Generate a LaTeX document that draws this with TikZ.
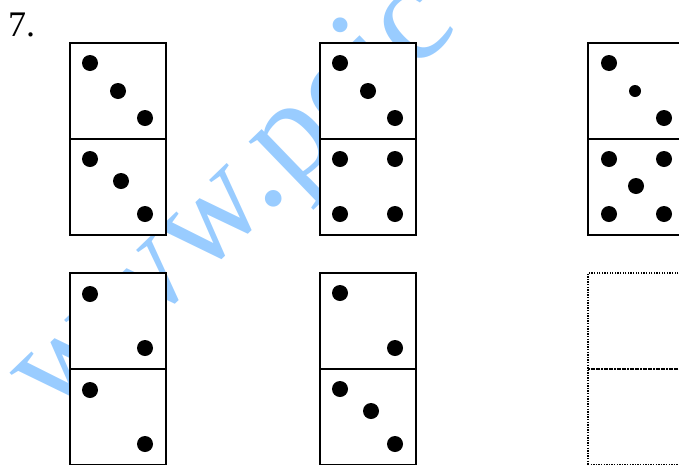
\documentclass[tikz,border=0pt]{standalone}
\usepackage{fontspec}
\setmainfont{Liberation Serif}
\usetikzlibrary{positioning}
\definecolor{markblue}{RGB}{153,204,255}
\tikzset{
  half/.style    = {draw=black, fill=white, line width=2pt, minimum width=96pt, minimum height=96pt, inner sep=0pt},
  blankhalf/.style = {draw=black, line width=1.3pt, dash pattern=on 1.3pt off 1.3pt, minimum width=96pt, minimum height=96pt, inner sep=0pt},
  pip/.style     = {circle, fill=black, inner sep=0pt, minimum size=16pt},
  smallpip/.style= {circle, fill=black, inner sep=0pt, minimum size=12pt},
  markstyle/.style = {text=markblue, font=\fontsize{140}{140}\selectfont, rotate=44, inner sep=0pt},
}
\begin{document}
\begin{tikzpicture}[x=1pt, y=-1pt]
\useasboundingbox (0,0) rectangle (679,464);
\clip (0,0) rectangle (679,464);

%% ---- watermark ----
\node[markstyle, anchor=base east] (mark1) at (291,191) {www.};
\node[markstyle, anchor=base west] (mark2) at (mark1.base east) {pcic};

%% ---- question number ----
\node[font=\fontsize{36}{36}\selectfont, anchor=base west, inner sep=0pt] (qnum) at (8,36) {7.};

%% ---- (1) domino 3|3 ----
\node[half] (d1t) at (118, 91) {};
\node[half] (d1b) at (118,187) {};
\node[pip] (p1a) at ( 90, 63) {};
\node[pip] (p1b) at (118, 91) {};
\node[pip] (p1c) at (145,118) {};
\node[pip] (p1d) at ( 90,159) {};
\node[pip] (p1e) at (121,181) {};
\node[pip] (p1f) at (145,214) {};

%% ---- (2) domino 3|4 ----
\node[half] (d2t) at (368, 91) {};
\node[half] (d2b) at (368,187) {};
\node[pip] (p2a) at (340, 63) {};
\node[pip] (p2b) at (368, 91) {};
\node[pip] (p2c) at (395,118) {};
\node[pip] (p2d) at (340,159) {};
\node[pip] (p2e) at (395,159) {};
\node[pip] (p2f) at (340,214) {};
\node[pip] (p2g) at (395,214) {};

%% ---- (3) domino 3|5 ----
\node[half] (d3t) at (636, 91) {};
\node[half] (d3b) at (636,187) {};
\node[pip]      (p3a) at (609, 63) {};
\node[smallpip] (p3b) at (635, 91) {};
\node[pip]      (p3c) at (664,118) {};
\node[pip]      (p3d) at (609,159) {};
\node[pip]      (p3e) at (664,159) {};
\node[pip]      (p3f) at (636,186) {};
\node[pip]      (p3g) at (609,214) {};
\node[pip]      (p3h) at (664,214) {};

%% ---- (4) domino 2|2 ----
\node[half] (d4t) at (118,321) {};
\node[half] (d4b) at (118,417) {};
\node[pip] (p4a) at ( 90,294) {};
\node[pip] (p4b) at (145,348) {};
\node[pip] (p4c) at ( 90,390) {};
\node[pip] (p4d) at (145,444) {};

%% ---- (5) domino 2|3 ----
\node[half] (d5t) at (368,321) {};
\node[half] (d5b) at (368,417) {};
\node[pip] (p5a) at (340,293) {};
\node[pip] (p5b) at (395,348) {};
\node[pip] (p5c) at (340,389) {};
\node[pip] (p5d) at (371,411) {};
\node[pip] (p5e) at (395,444) {};

%% ---- (6) blank domino ----
\node[blankhalf] (d6t) at (636,321) {};
\node[blankhalf] (d6b) at (636,417) {};

\end{tikzpicture}
\end{document}
